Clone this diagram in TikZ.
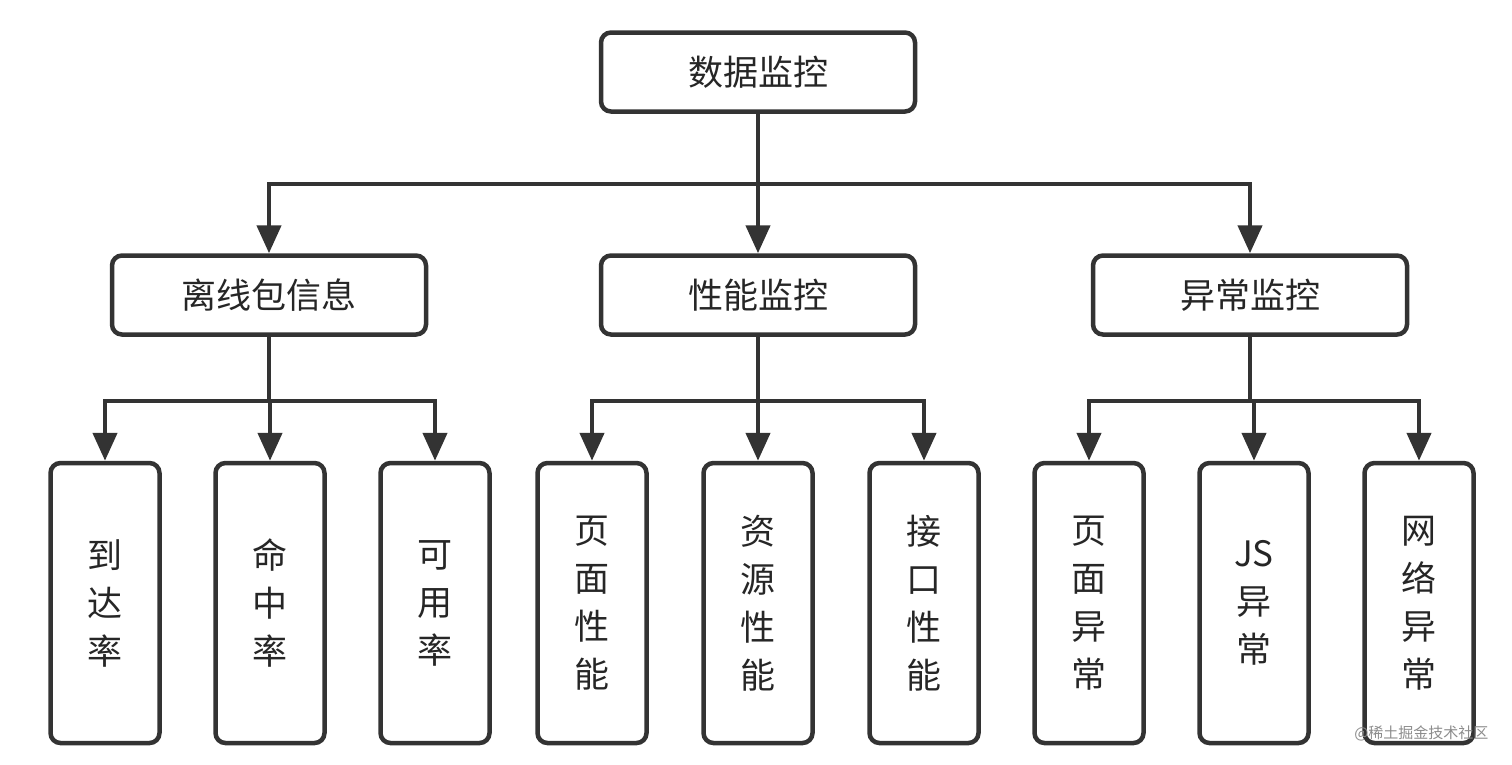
\documentclass[tikz,border=0pt]{standalone}
\usepackage{fontspec}
\setmainfont{Noto Sans CJK SC}
\usetikzlibrary{arrows.meta,calc}
\begin{document}
\begin{tikzpicture}[x=1pt,y=-1pt,
  box/.style={draw=black!80,line width=4.5pt,rounded corners=10pt,fill=white,inner sep=0pt,font=\fontsize{35}{48}\selectfont,text=black!85,align=center},
  wide/.style={box,minimum width=314pt,minimum height=79pt},
  leaf/.style={box,minimum width=109pt,minimum height=280pt},
  arr/.style={draw=black!80,line width=4.5pt,-{Triangle[width=24pt,length=28pt]}}]
\useasboundingbox (0,0) rectangle (1512,764);
\node[wide] (top) at (758,72) {数据监控};
\node[wide] (a) at (269,295) {离线包信息};
\node[wide] (b) at (758,295) {性能监控};
\node[wide] (c) at (1250,295) {异常监控};
\node[leaf] (a1) at (105,603) {到\\达\\率};
\node[leaf] (a2) at (270,603) {命\\中\\率};
\node[leaf] (a3) at (435,603) {可\\用\\率};
\node[leaf] (b1) at (592,603) {页\\面\\性\\能};
\node[leaf] (b2) at (758,603) {资\\源\\性\\能};
\node[leaf] (b3) at (924,603) {接\\口\\性\\能};
\node[leaf] (c1) at (1089,603) {页\\面\\异\\常};
\node[leaf] (c2) at (1254,603) {JS\\异\\常};
\node[leaf] (c3) at (1419,603) {网\\络\\异\\常};
\foreach \ch in {a,b,c} \draw[arr] (top.south) -- ++(0,70) -| (\ch.north);
\foreach \p in {a,b,c} \foreach \i in {1,2,3}
  \draw[arr] (\p.south) -- ++(0,64) -| (\p\i.north);
\node[text=black!45,font=\fontsize{15}{18}\selectfont,anchor=east] (wm) at (1492,733) {@稀土掘金技术社区};
\end{tikzpicture}
\end{document}
